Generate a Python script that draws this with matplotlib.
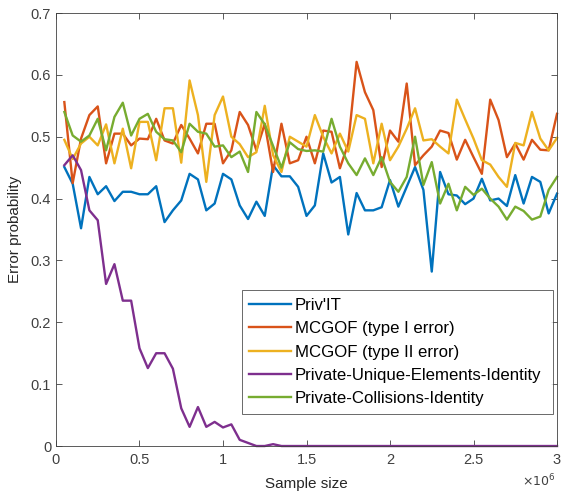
import numpy as np
import matplotlib
matplotlib.use("Agg")
import matplotlib.pyplot as plt
from matplotlib.ticker import FuncFormatter

# sample sizes: 50k steps up to 3M
sample_sizes = np.arange(50000, 3000001, 50000)

priv_it = [0.451, 0.424, 0.352, 0.435, 0.407, 0.420, 0.396, 0.411, 0.411, 0.407,
           0.407, 0.420, 0.362, 0.381, 0.397, 0.440, 0.431, 0.381, 0.392, 0.440,
           0.431, 0.389, 0.367, 0.395, 0.372, 0.454, 0.436, 0.436, 0.419, 0.372,
           0.389, 0.473, 0.426, 0.435, 0.342, 0.409, 0.381, 0.381, 0.386, 0.430,
           0.387, 0.419, 0.451, 0.414, 0.282, 0.443, 0.407, 0.405, 0.391, 0.400,
           0.432, 0.397, 0.400, 0.388, 0.438, 0.392, 0.435, 0.427, 0.376, 0.408]

mcgof_type1 = [0.556, 0.425, 0.497, 0.535, 0.549, 0.457, 0.505, 0.505, 0.486, 0.497,
               0.496, 0.529, 0.494, 0.489, 0.519, 0.497, 0.473, 0.521, 0.521, 0.457,
               0.478, 0.540, 0.519, 0.478, 0.521, 0.443, 0.521, 0.457, 0.462, 0.500,
               0.457, 0.510, 0.508, 0.449, 0.489, 0.621, 0.572, 0.543, 0.451, 0.510,
               0.492, 0.586, 0.454, 0.470, 0.484, 0.510, 0.506, 0.463, 0.495, 0.467,
               0.440, 0.560, 0.527, 0.467, 0.489, 0.463, 0.495, 0.479, 0.478, 0.537]

mcgof_type2 = [0.495, 0.464, 0.489, 0.500, 0.486, 0.520, 0.457, 0.513, 0.449, 0.524,
               0.524, 0.462, 0.546, 0.546, 0.458, 0.591, 0.535, 0.427, 0.535, 0.565,
               0.500, 0.488, 0.467, 0.475, 0.550, 0.470, 0.443, 0.500, 0.492, 0.484,
               0.535, 0.500, 0.473, 0.505, 0.476, 0.535, 0.529, 0.457, 0.521, 0.462,
               0.484, 0.513, 0.546, 0.494, 0.496, 0.484, 0.473, 0.560, 0.528, 0.497,
               0.462, 0.455, 0.435, 0.419, 0.490, 0.486, 0.540, 0.497, 0.478, 0.498]

unique_elements = [0.454, 0.470, 0.446, 0.381, 0.365, 0.262, 0.294, 0.235, 0.235, 0.158,
                   0.126, 0.150, 0.150, 0.125, 0.061, 0.031, 0.063, 0.031, 0.039, 0.030,
                   0.035, 0.010, 0.005, 0.000, 0.000, 0.003, 0.000, 0.000, 0.000, 0.000,
                   0.000, 0.000, 0.000, 0.000, 0.000, 0.000, 0.000, 0.000, 0.000, 0.000,
                   0.000, 0.000, 0.000, 0.000, 0.000, 0.000, 0.000, 0.000, 0.000, 0.000,
                   0.000, 0.000, 0.000, 0.000, 0.000, 0.000, 0.000, 0.000, 0.000, 0.000]

collisions = [0.540, 0.502, 0.492, 0.502, 0.529, 0.478, 0.532, 0.555, 0.502, 0.529,
              0.537, 0.508, 0.496, 0.494, 0.475, 0.521, 0.508, 0.505, 0.484, 0.486,
              0.467, 0.476, 0.443, 0.540, 0.520, 0.485, 0.450, 0.491, 0.480, 0.477,
              0.478, 0.476, 0.529, 0.484, 0.457, 0.438, 0.465, 0.438, 0.467, 0.427,
              0.411, 0.435, 0.500, 0.422, 0.459, 0.392, 0.424, 0.381, 0.419, 0.406,
              0.416, 0.400, 0.387, 0.366, 0.387, 0.380, 0.366, 0.371, 0.414, 0.435]

labels = ["Priv'IT", "MCGOF (type I error)", "MCGOF (type II error)",
          "Private-Unique-Elements-Identity", "Private-Collisions-Identity"]
colors = ["#0072BD", "#D95319", "#EDB120", "#7E2F8E", "#77AC30"]
series = [priv_it, mcgof_type1, mcgof_type2, unique_elements, collisions]

plt.rcParams['font.family'] = ['Liberation Sans', 'DejaVu Sans']

fig = plt.figure(figsize=(5.61, 4.91), dpi=100)
ax = fig.add_axes([0.0998, 0.0916, 0.8931, 0.8819])

for ys, lab, c in zip(series, labels, colors):
    ax.plot(sample_sizes, ys, color=c, lw=1.7, label=lab, clip_on=False)

ax.set_xlim(0, 3e6)
ax.set_ylim(0, 0.7)
ax.set_xticks(np.arange(0, 3.01e6, 0.5e6))
ax.set_yticks(np.arange(0, 0.71, 0.1))
ax.xaxis.set_major_formatter(FuncFormatter(lambda v, p: f"{v/1e6:g}"))
ax.yaxis.set_major_formatter(FuncFormatter(lambda v, p: f"{v:g}"))

gray = "#404040"
ax.tick_params(direction="in", top=True, right=True, length=4, width=0.6,
               colors=gray, labelsize=10.5, labelcolor=gray)
ax.tick_params(axis="x", pad=5)
for s in ax.spines.values():
    s.set_color(gray)
    s.set_linewidth(0.6)

ax.set_xlabel("Sample size", fontsize=11, color="#262626", labelpad=7)
ax.set_ylabel("Error probability", fontsize=11, color="#262626", labelpad=6)
ax.text(0.997, -0.062, r"$\times10^{6}$", transform=ax.transAxes, ha="right", va="top",
        fontsize=9, color=gray)

leg = ax.legend(loc="upper left", bbox_to_anchor=(0.371, 0.36, 0.621, 0.0),
                mode="expand", fontsize=12.1, frameon=True, fancybox=False,
                handlelength=2.5, handletextpad=0.2, borderpad=0.45,
                labelspacing=0.5, borderaxespad=0)
leg.get_frame().set_edgecolor("#262626")
leg.get_frame().set_linewidth(0.6)

fig.savefig("out.png", dpi=100)
